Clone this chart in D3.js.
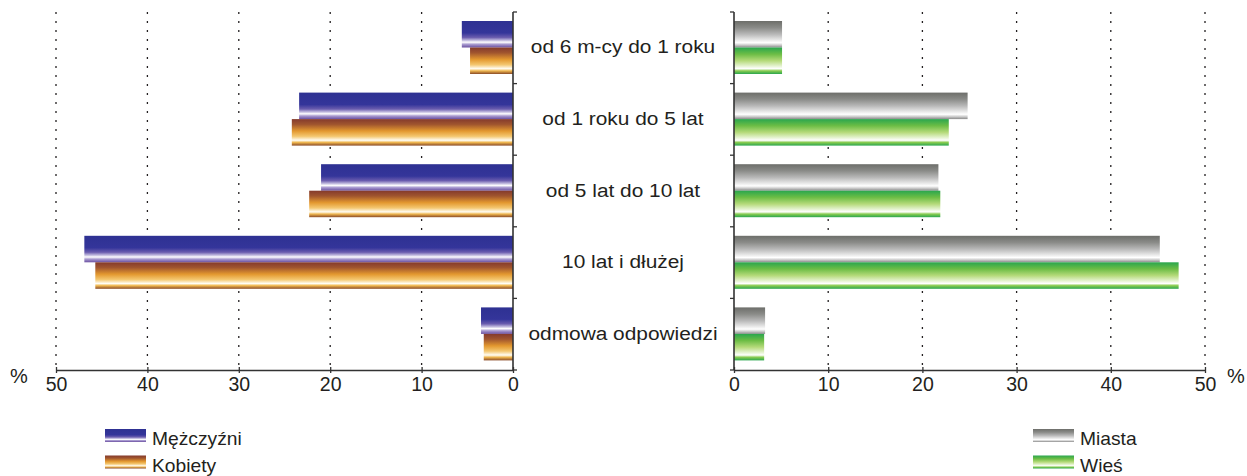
<!DOCTYPE html>
<html><head><meta charset="utf-8">
<script src="https://cdn.jsdelivr.net/npm/d3@7"></script>
<style>body{margin:0;background:#fff}svg{display:block;font-family:"Liberation Sans",Arial,sans-serif}</style>
</head><body>
<svg id="c" width="1247" height="476"></svg>
<script>
const categories = ["od 6 m-cy do 1 roku","od 1 roku do 5 lat","od 5 lat do 10 lat","10 lat i dłużej","odmowa odpowiedzi"];
const men = [5.6, 23.4, 21.0, 46.9, 3.5];
const women = [4.7, 24.2, 22.3, 45.7, 3.2];
const cities = [5.1, 24.8, 21.7, 45.2, 3.3];
const rural = [5.1, 22.8, 21.9, 47.2, 3.2];
const ticks = [0,10,20,30,40,50];
const seriesLeft = [{name:"Mężczyźni", values:men, grad:"gBlue"},{name:"Kobiety", values:women, grad:"gOrange"}];
const seriesRight = [{name:"Miasta", values:cities, grad:"gGrey"},{name:"Wieś", values:rural, grad:"gGreen"}];

const svg = d3.select("#c");
const defs = svg.append("defs");
function grad(id, stops){
  const g = defs.append("linearGradient").attr("id",id).attr("x1",0).attr("y1",0).attr("x2",0).attr("y2",1);
  stops.forEach(s=>g.append("stop").attr("offset",s[0]).attr("stop-color",s[1]));
}
grad("gBlue",[[0,"#2e3192"],[0.45,"#34359a"],[0.62,"#6a5cae"],[0.74,"#c8c2e2"],[0.8,"#ffffff"],[0.88,"#a99bd0"],[1,"#6a4fa0"]]);
grad("gOrange",[[0,"#843a2c"],[0.2,"#a0552e"],[0.45,"#e3982f"],[0.65,"#f4c770"],[0.8,"#fffdf5"],[0.88,"#f0b850"],[1,"#8a4a26"]]);
grad("gGrey",[[0,"#6d6e6a"],[0.25,"#8a8b88"],[0.5,"#b8b8b8"],[0.7,"#e4e4e4"],[0.82,"#ffffff"],[0.9,"#d0d0d0"],[1,"#8a8a8a"]]);
grad("gGreen",[[0,"#2aa64e"],[0.25,"#6cbd45"],[0.5,"#b5da7a"],[0.7,"#e5f3d0"],[0.8,"#ffffff"],[0.88,"#8acc50"],[1,"#2aa64e"]]);

const yTop = 12, yBottom = 370;
const xL = d3.scaleLinear().domain([0,50]).range([513,56]);
const xR = d3.scaleLinear().domain([0,50]).range([734,1205]);
const y = d3.scaleBand().domain(categories).range([yTop,yBottom]);
const sub = d3.scaleBand().domain([0,1]).range([9,62]);
const ink = "#231f20";

// gridlines
[xL,xR].forEach(x=>{
  svg.append("g").selectAll("line").data(ticks.filter(t=>t>0)).join("line")
    .attr("x1",d=>x(d)).attr("x2",d=>x(d)).attr("y1",yTop).attr("y2",yBottom)
    .attr("stroke",ink).attr("stroke-width",1.3).attr("stroke-dasharray","2,7");
});

// bars
function bars(series, x, left){
  series.forEach((s,si)=>{
    svg.append("g").selectAll("rect").data(s.values).join("rect")
      .attr("x",d=> left ? x(d) : x(0))
      .attr("width",d=> Math.abs(x(d)-x(0)))
      .attr("y",(d,i)=>y(categories[i])+sub(si))
      .attr("height",sub.bandwidth())
      .attr("fill",`url(#${s.grad})`);
  });
}
bars(seriesLeft, xL, true);
bars(seriesRight, xR, false);

// x axes
function xAxis(x){
  const g = svg.append("g").attr("transform",`translate(0,${yBottom})`)
    .call(d3.axisBottom(x).tickValues(ticks).tickSize(3).tickSizeOuter(0).tickPadding(4));
  g.select(".domain").attr("stroke","#333").attr("stroke-width",1.6);
  g.selectAll(".tick line").attr("stroke","#333").attr("stroke-width",1.3).attr("y1",-3);
  g.selectAll(".tick text").attr("font-size",19.5).attr("fill",ink).attr("font-family","Liberation Sans, Arial, sans-serif");
}
xAxis(xL); xAxis(xR);

// y axes
const yb = [yTop].concat(categories.map(c=>y(c)+y.bandwidth()));
function yAxis(xpos, dir){
  svg.append("line").attr("x1",xpos).attr("x2",xpos).attr("y1",yTop).attr("y2",yBottom).attr("stroke","#333").attr("stroke-width",1.6);
  svg.append("g").selectAll("line").data(yb).join("line")
    .attr("x1",xpos).attr("x2",xpos+dir*4).attr("y1",d=>d).attr("y2",d=>d)
    .attr("stroke","#333").attr("stroke-width",1.3);
}
yAxis(513,1); yAxis(734,-1);

// category labels (horizontally stretched like the reference typeface)
svg.append("g").selectAll("text").data(categories).join("text")
  .attr("transform",d=>`translate(623,${y(d)+y.bandwidth()/2+5.5}) scale(1.16,1)`)
  .attr("text-anchor","middle")
  .attr("font-size",18).attr("fill",ink).text(d=>d);

// percent signs
svg.append("text").attr("x",19).attr("y",383).attr("text-anchor","middle").attr("font-size",20).attr("fill",ink).text("%");
svg.append("text").attr("x",1236).attr("y",383).attr("text-anchor","middle").attr("font-size",20).attr("fill",ink).text("%");

// legends
function legend(series, x0){
  series.forEach((s,i)=>{
    const yy = 429 + i*26.5;
    svg.append("rect").attr("x",x0).attr("y",yy).attr("width",41).attr("height",13).attr("fill",`url(#${s.grad})`);
    svg.append("text").attr("transform",`translate(${x0+47},${yy+16}) scale(1.1,1)`)
      .attr("font-size",17.5).attr("fill",ink).text(s.name);
  });
}
legend(seriesLeft, 105);
legend(seriesRight, 1033);
</script>
</body></html>
